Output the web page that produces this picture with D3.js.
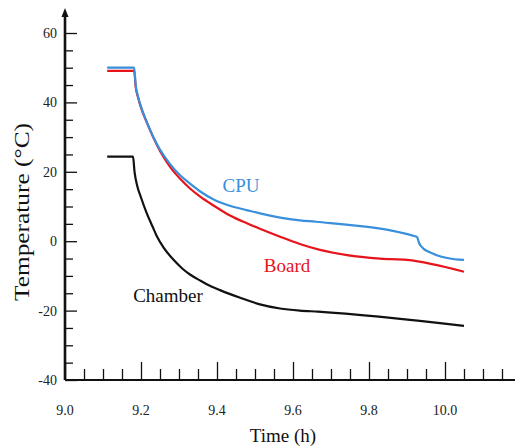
<!DOCTYPE html>
<html>
<head>
<meta charset="utf-8">
<script src="https://cdn.jsdelivr.net/npm/d3@7"></script>
<style>
  body { margin: 0; background: #fff; }
</style>
</head>
<body>
<div id="vis"></div>
<script>
// values
const cpuTime = [9.111, 9.182, 9.186, 9.192, 9.200, 9.215, 9.232, 9.250, 9.276, 9.303, 9.329, 9.355, 9.395, 9.434, 9.480, 9.513, 9.566, 9.618, 9.661, 9.926, 9.932, 9.942, 9.960, 9.980, 10.0, 10.025, 10.05];
const cpuTemp = [50.0, 50.0, 45.0, 41.8, 38.8, 34.4, 30.1, 26.4, 22.3, 19.0, 16.6, 14.4, 11.8, 10.2, 8.9, 8.0, 6.8, 6.0, 5.6, 1.3, -0.6, -2.0, -3.2, -4.1, -4.7, -5.2, -5.4];

const boardTime = [9.111, 9.182, 9.186, 9.192, 9.200, 9.215, 9.232, 9.250, 9.276, 9.303, 9.329, 9.355, 9.395, 9.434, 9.480, 9.513, 9.566, 9.618, 9.671, 9.742, 9.829, 9.900, 10.05];
const boardTemp = [49.1, 49.1, 44.5, 41.5, 38.5, 34.3, 30.0, 26.0, 21.5, 18.0, 15.2, 12.9, 10.0, 7.4, 5.1, 3.6, 1.3, -0.8, -2.5, -4.0, -5.0, -5.4, -8.8];

const chamberTime = [9.111, 9.179, 9.183, 9.190, 9.200, 9.215, 9.230, 9.241, 9.260, 9.285, 9.310, 9.329, 9.355, 9.373, 9.408, 9.461, 9.513, 9.566, 9.618, 9.666, 10.05];
const chamberTemp = [24.4, 24.4, 20.0, 16.0, 12.6, 8.1, 4.3, 1.6, -1.9, -5.3, -8.0, -9.6, -11.3, -12.4, -14.1, -16.3, -18.2, -19.4, -20.0, -20.3, -24.4];

const xTickValues = [9.0, 9.2, 9.4, 9.6, 9.8, 10.0];
const yTickValues = [-40, -20, 0, 20, 40, 60];

const serif = "'Liberation Serif'";

const width = 515, height = 448;
const svg = d3.select("#vis").append("svg")
    .attr("width", width)
    .attr("height", height);

const x = d3.scaleLinear().domain([9.0, 10.0]).range([65, 445]);
const y = d3.scaleLinear().domain([-40, 60]).range([380, 33]);

// minor ticks
const xMinor = d3.range(9.05, 10.16, 0.05).filter(v => Math.abs(v * 5 - Math.round(v * 5)) > 1e-6);
const yMinor = d3.range(-35, 60, 5).filter(v => v % 20 !== 0);

// x axis, ticks pointing up
const xAxis = svg.append("g").attr("transform", `translate(0,${y(-40)})`);
xAxis.call(d3.axisTop(x).tickValues(xTickValues).tickSize(18).tickFormat(""));
xAxis.append("g").call(d3.axisTop(x).tickValues(xMinor).tickSize(11).tickFormat(""));
xAxis.selectAll(".domain").remove();
xAxis.selectAll("line").attr("stroke", "#111").attr("stroke-width", 1.3);
xAxis.append("line")
    .attr("x1", x(9.0)).attr("x2", width)
    .attr("stroke", "#111").attr("stroke-width", 2.2);

// y axis, ticks pointing right
const yAxis = svg.append("g").attr("transform", `translate(${x(9.0)},0)`);
yAxis.call(d3.axisRight(y).tickValues(yTickValues).tickSize(12).tickFormat(""));
yAxis.append("g").call(d3.axisRight(y).tickValues(yMinor).tickSize(8).tickFormat(""));
yAxis.selectAll(".domain").remove();
yAxis.selectAll("line").attr("stroke", "#111").attr("stroke-width", 1.3);
yAxis.append("line")
    .attr("y1", y(-40)).attr("y2", 14)
    .attr("stroke", "#111").attr("stroke-width", 2.6);
yAxis.append("path")
    .attr("d", "M0,8 L-3.5,17 L3.5,17 Z")
    .attr("fill", "#111");

const labels = svg.append("g");

labels.selectAll("text.xlab")
    .data(xTickValues)
    .enter().append("text")
    .attr("class", "xlab")
    .attr("x", d => x(d))
    .attr("y", 415)
    .attr("text-anchor", "middle")
    .style("font-family", serif)
    .style("font-size", "14px")
    .style("fill", "#222")
    .text(d => d3.format(".1f")(d));

labels.selectAll("text.ylab")
    .data(yTickValues)
    .enter().append("text")
    .attr("class", "ylab")
    .attr("x", 57)
    .attr("y", d => y(d) + 5)
    .attr("text-anchor", "end")
    .style("font-family", serif)
    .style("font-size", "14px")
    .style("fill", "#222")
    .text(d => d);

// axis titles
labels.append("text")
    .attr("x", 283)
    .attr("y", 442)
    .attr("text-anchor", "middle")
    .style("font-family", serif)
    .style("font-size", "19px")
    .style("fill", "#111")
    .text("Time (h)");

labels.append("text")
    .attr("transform", "translate(29,212) rotate(-90)")
    .attr("text-anchor", "middle")
    .attr("textLength", 178)
    .attr("lengthAdjust", "spacingAndGlyphs")
    .style("font-family", serif)
    .style("font-size", "22px")
    .style("fill", "#111")
    .text("Temperature (\u00B0C)");

const line = d3.line()
    .x(d => x(d[0]))
    .y(d => y(d[1]))
    .curve(d3.curveMonotoneX);

const series = [
    { name: "Chamber", time: chamberTime, temp: chamberTemp, color: "#111111", lx: 168, ly: 302 },
    { name: "Board", time: boardTime, temp: boardTemp, color: "#e8141c", lx: 287, ly: 272 },
    { name: "CPU", time: cpuTime, temp: cpuTemp, color: "#3a8fdc", lx: 241, ly: 192 }
];

series.forEach(s => {
    svg.append("path")
        .datum(d3.zip(s.time, s.temp))
        .attr("d", line)
        .attr("fill", "none")
        .attr("stroke", s.color)
        .attr("stroke-width", 2.2);

    labels.append("text")
        .attr("x", s.lx)
        .attr("y", s.ly)
        .attr("text-anchor", "middle")
        .style("font-family", serif)
        .style("font-size", "19px")
        .style("fill", s.color)
        .text(s.name);
});
</script>
</body>
</html>
